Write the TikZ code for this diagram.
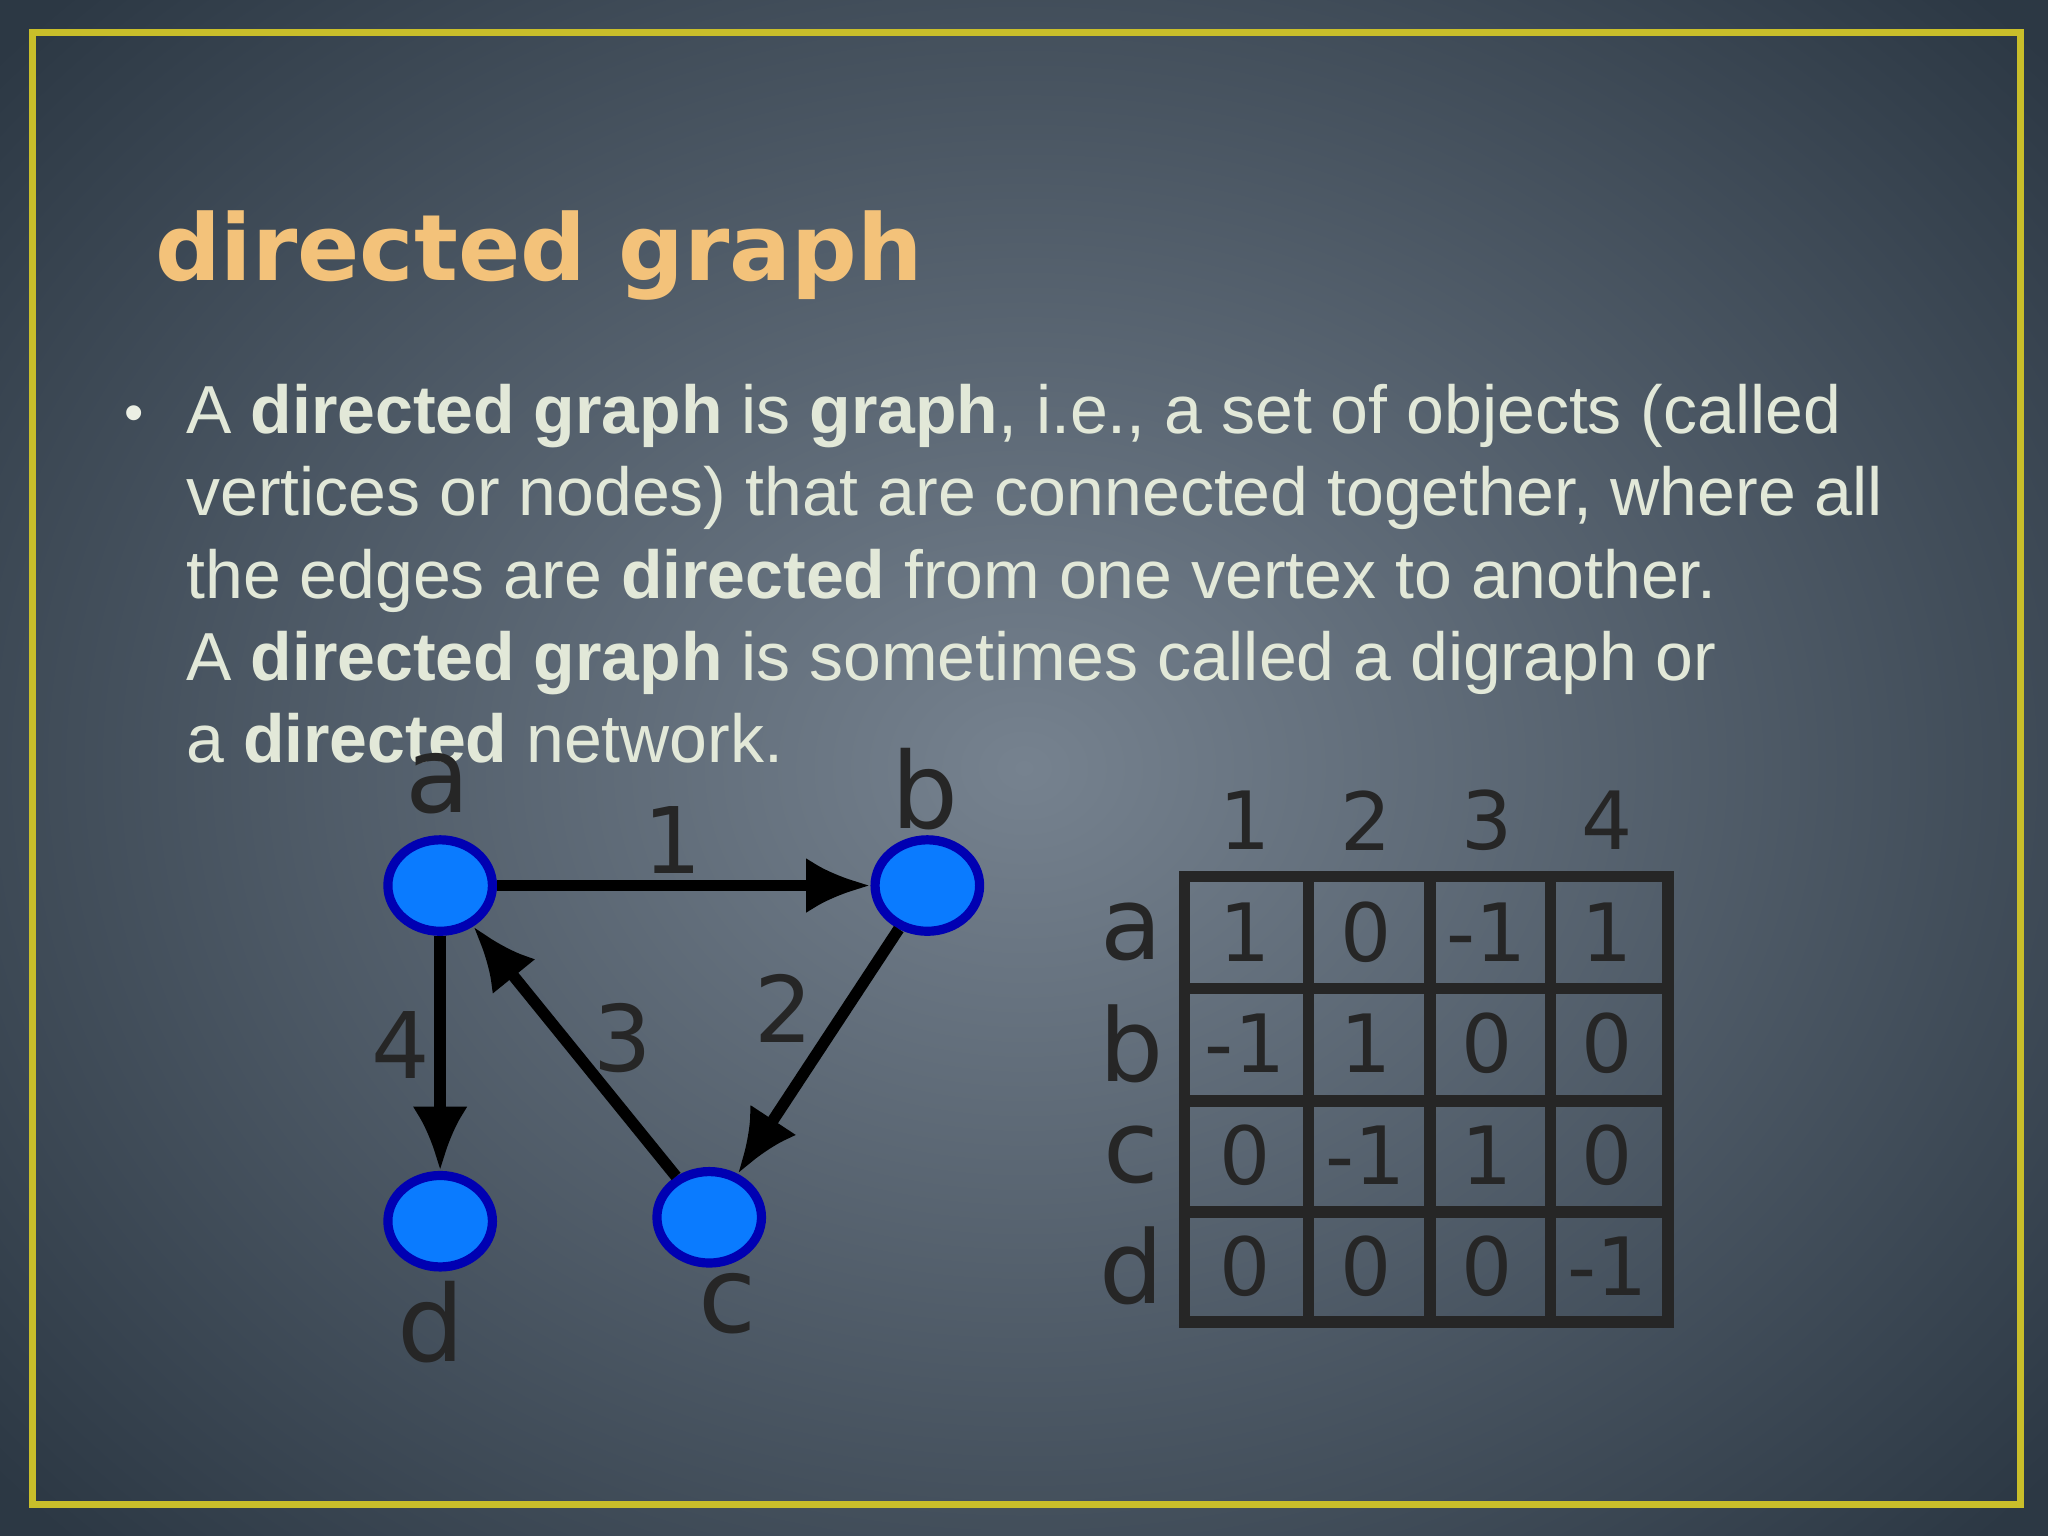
\documentclass[tikz,border=0pt]{standalone}
\usepackage{fontspec}
\setmainfont{Liberation Sans}
\newfontfamily\titlefont{DejaVu Sans}
\newfontfamily\gfont{DejaVu Sans}
\usetikzlibrary{arrows.meta,shapes.geometric}
\definecolor{bgc}{HTML}{76828F}
\definecolor{bge}{HTML}{2C3844}
\definecolor{txt}{HTML}{E2E8D8}
\definecolor{ttl}{HTML}{F3C27A}
\definecolor{ylw}{HTML}{C9BE2A}
\definecolor{nodeb}{HTML}{0A7BFF}
\begin{document}
\begin{tikzpicture}[x=0.01cm,y=-0.01cm,
  vtx/.style={ellipse,draw=blue!70!black,line width=2pt,fill=nodeb,minimum width=0.8cm,minimum height=0.7cm,inner sep=0pt},
  vl/.style={font=\gfont\fontsize{23}{23}\selectfont,text=black!85},
  el/.style={font=\gfont\fontsize{20}{20}\selectfont,text=black!85},
  md/.style={font=\gfont\fontsize{17.5}{18}\selectfont,text=black!85},
  rl/.style={font=\gfont\fontsize{22}{22}\selectfont,text=black!85},
  arr/.style={line width=2.5pt,-{Latex[length=14pt,width=12pt]}},
  body/.style={anchor=base west,inner sep=0pt,text=txt,font=\fontsize{14.8}{16}\selectfont},
  ]
\useasboundingbox (0,0) rectangle (1568,1176);
\begin{scope}
\clip (0,0) rectangle (1568,1176);
\shade[inner color=bgc,outer color=bge] (-250,-250) rectangle (1818,1426);
\end{scope}
\draw[ylw,line width=1.5pt] (25,25) rectangle (1547,1152);
\node[anchor=base west,inner sep=0pt,text=ttl,font=\titlefont\bfseries\fontsize{20}{20}\selectfont] (title) at (118,215) {directed graph};
\node[anchor=base,inner sep=0pt,text=txt!70,font=\fontsize{12}{12}\selectfont] (bul) at (103,330) {•};
\node[body] (l1) at (142,332) {A \textbf{directed graph} is \textbf{graph}, i.e., a set of objects (called};
\node[body] (l2) at (142,395) {vertices or nodes) that are connected together, where all};
\node[body] (l3) at (142,458) {the edges are \textbf{directed} from one vertex to another.};
\node[body] (l4) at (142,521) {A \textbf{directed graph} is sometimes called a digraph or};
\node[body] (l5) at (142,584) {a \textbf{directed} network.};
% graph
\node[vtx] (a) at (337,678) {};
\node[vtx] (b) at (710,678) {};
\node[vtx] (c) at (543,932) {};
\node[vtx] (d) at (337,935) {};
\node[vl] (la) at (335,600) {a};
\node[vl] (lb) at (708,604) {b};
\node[vl] (lc) at (557,998) {c};
\node[vl] (ld) at (330,1012) {d};
\draw[arr] (a) -- (b);
\draw[arr] (b) -- (c);
\draw[arr] (c) -- (a);
\draw[arr] (a) -- (d);
\node[el] (e1) at (515,643) {1};
\node[el] (e2) at (600,772) {2};
\node[el] (e3) at (477,795) {3};
\node[el] (e4) at (307,800) {4};
% matrix
\draw[line width=2.5pt,black!85] (907,671) rectangle (1277,1012);
\foreach \x in {1002,1095,1187} \draw[line width=2.5pt,black!85] (\x,671) -- (\x,1012);
\foreach \y in {757,843,928} \draw[line width=2.5pt,black!85] (907,\y) -- (1277,\y);
\foreach \t [count=\i] in {1,2,3,4} {
  \node[md] (h\i) at ({907+(\i-0.5)*92.5},628) {\t};
}
\foreach \t [count=\i] in {a,b,c,d} {
  \node[rl] (r\i) at (866,{671+(\i-0.5)*85.25}) {\t};
}
\foreach \r/\row in {1/{1,0,-1,1},2/{-1,1,0,0},3/{0,-1,1,0},4/{0,0,0,-1}} {
  \foreach \v [count=\c] in \row {
    \node[md] at ({907+(\c-0.5)*92.5},{671+(\r-0.5)*85.25}) {\v};
  }
}
\end{tikzpicture}
\end{document}
